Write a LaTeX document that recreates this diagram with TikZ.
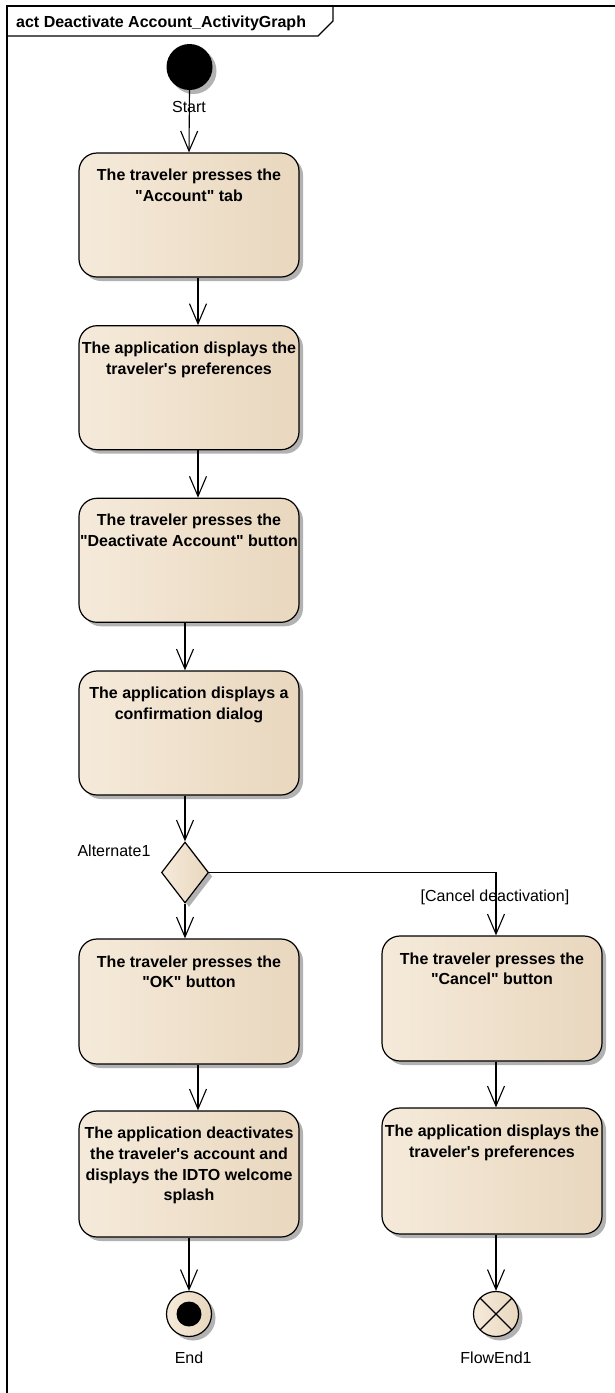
\documentclass[tikz,border=0pt]{standalone}
\usepackage{fontspec}
\setmainfont{Liberation Sans}[Ligatures=TeXOff]
\usetikzlibrary{shapes.geometric,arrows.meta,shadows}

\definecolor{boxL}{HTML}{F5EADA}
\definecolor{boxM}{HTML}{FAF1E4}
\definecolor{boxR}{HTML}{E9D7BE}

% box text: bold, top-aligned inside the action box
\newcommand{\acttext}[2]{\parbox[c][92pt][t]{220pt}{\centering\bfseries\fontsize{16}{20.7}\selectfont\mbox{#1}\\\mbox{#2}}}
\newcommand{\acttextfour}[4]{\parbox[c][94pt][t]{220pt}{\centering\bfseries\fontsize{16}{20.7}\selectfont\mbox{#1}\\\mbox{#2}\\\mbox{#3}\\\mbox{#4}}}

\begin{document}
\begin{tikzpicture}[x=1pt,y=-1pt,
  shade/.style={left color=boxL, middle color=boxM, right color=boxR},
  shad/.style={drop shadow={shadow xshift=4pt,shadow yshift=-4pt,opacity=0.3,fill=black}},
  actbox/.style={draw=black, line width=1.2pt, rounded corners=18pt,
    minimum width=220pt, minimum height=124pt, inner sep=0pt, shade, shad},
  decision/.style={diamond, draw=black, line width=1.2pt, minimum width=47pt,
    minimum height=61pt, inner sep=0pt, shade, shad},
  initial/.style={circle, fill=black, minimum size=46pt, inner sep=0pt, shad},
  final/.style={circle, draw=black, line width=1.2pt, minimum size=45pt, inner sep=0pt, shade, shad,
    path picture={\fill[black] (path picture bounding box.center) circle (12.5pt);}},
  flowfinal/.style={circle, draw=black, line width=1.2pt, minimum size=45pt, inner sep=0pt, shade, shad,
    path picture={\draw[line width=1.2pt] (path picture bounding box.north west) -- (path picture bounding box.south east)
                  (path picture bounding box.north east) -- (path picture bounding box.south west);}},
  lbl/.style={font=\fontsize{16}{19}\selectfont, inner sep=0pt},
  flow/.style={draw=black, line width=1.1pt, -{Straight Barb[length=20pt,width=17pt,line width=1.1pt]}},
  plain/.style={draw=black, line width=1.1pt}
]
\useasboundingbox (0,0) rectangle (615,1393);
\fill[white] (0,0) rectangle (615,1393);

% diagram frame with its name tab
\node[anchor=base west, inner sep=0pt, font=\bfseries\fontsize{16}{19}\selectfont] (title) at (16,27) {act Deactivate Account\_ActivityGraph};
\draw[plain] (7,1400) -- (7,6) -- (620,6);
\draw[plain] (7,36) -- (318,36) -- (333,21) -- (333,6);

% nodes
\node[initial] (start) at (189.5,67) {};
\node[lbl] (startlbl) at (189,107) {Start};

\node[actbox] (b1) at (189,215) {\acttext{The traveler presses the}{"Account" tab}};
\node[actbox] (b2) at (189,387.7) {\acttext{The application displays the}{traveler's preferences}};
\node[actbox] (b3) at (189,560.3) {\acttext{The traveler presses the}{"Deactivate Account" button}};
\node[actbox] (b4) at (189,733) {\acttext{The application displays a}{confirmation dialog}};

\node[decision] (dia) at (185,872.5) {};
\node[lbl] (dialbl) at (114,851) {Alternate1};

\node[actbox, minimum height=125pt] (b5) at (189,1001.5) {\acttext{The traveler presses the}{"OK" button}};
\node[actbox, minimum height=126pt] (b6) at (189,1174) {\acttextfour{The application deactivates}{the traveler's account and}{displays the IDTO welcome}{splash}};
\node[actbox, minimum height=125pt] (b7) at (492,998.5) {\acttext{The traveler presses the}{"Cancel" button}};
\node[actbox, minimum height=126pt] (b8) at (492,1171) {\acttext{The application displays the}{traveler's preferences}};

\node[final] (end) at (189,1314) {};
\node[lbl] (endlbl) at (189,1358) {End};
\node[flowfinal] (fe) at (496,1314) {};
\node[lbl] (felbl) at (496,1358) {FlowEnd1};

\node[lbl] (guard) at (495,897) {[Cancel deactivation]};

% control flows
\draw[flow] (start.south) -- (b1.north);
\draw[flow] ([xshift=9pt]b1.south) -- ([xshift=9pt]b2.north);
\draw[flow] ([xshift=9pt]b2.south) -- ([xshift=9pt]b3.north);
\draw[flow] ([xshift=-4pt]b3.south) -- ([xshift=-4pt]b4.north);
\draw[flow] ([xshift=-4pt]b4.south) -- (dia.north);
\draw[flow] (dia.south) -- (dia.south |- b5.north);
\draw[flow] ([xshift=9pt]b5.south) -- ([xshift=9pt]b6.north);
\draw[flow] (b6.south) -- (end.north);
\coordinate (c7) at ([xshift=4pt]b7.north);
\draw[flow] (dia.east) -- (c7 |- dia.east) -- (c7);
\draw[flow] ([xshift=4pt]b7.south) -- ([xshift=4pt]b8.north);
\draw[flow] ([xshift=4pt]b8.south) -- (fe.north);
\end{tikzpicture}
\end{document}
